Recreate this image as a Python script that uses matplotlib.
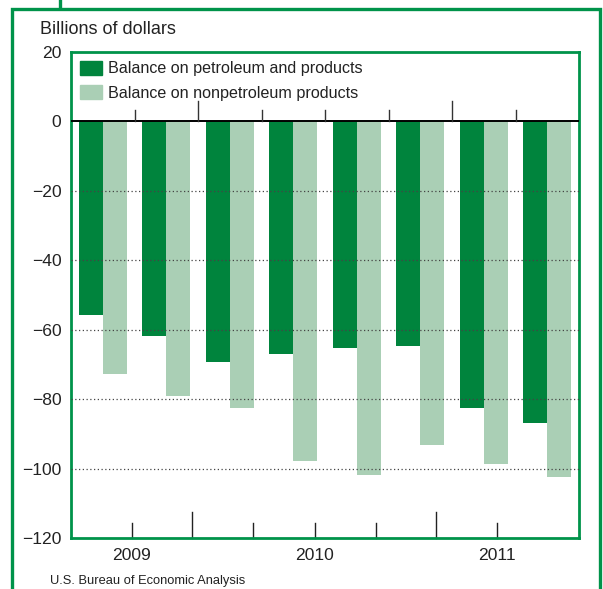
import numpy as np
import matplotlib
matplotlib.use('Agg')
import matplotlib.pyplot as plt
from matplotlib.patches import Rectangle, Patch

plt.rcParams['font.family'] = ['Liberation Sans', 'DejaVu Sans']

# quarterly balances, billions of dollars
petroleum = [-55.7, -61.8, -69.2, -67.0, -65.3, -64.7, -82.6, -86.9]
nonpetroleum = [-72.8, -79.1, -82.6, -97.8, -101.9, -93.2, -98.7, -102.5]
years = ['2009', '2010', '2011']
year_pos = [0.46, 3.34, 6.21]
bottom_ticks = [0.46, 1.40, 2.36, 3.34, 4.31, 5.25, 6.21]
bottom_tall = [1.40, 5.25]
yticks = [20, 0, -20, -40, -60, -80, -100, -120]

dark = '#00843d'
light = '#aacfb5'
frame = '#00934a'

W, H = 603, 589
fig = plt.figure(figsize=(W / 100, H / 100), dpi=100)
ax = fig.add_axes([71 / W, 1 - 538 / H, 508 / W, 486 / H])

x = np.arange(len(petroleum))
bw = 0.375
ax.bar(x - bw / 2, petroleum, bw, color=dark, zorder=2)
ax.bar(x + bw / 2, nonpetroleum, bw, color=light, zorder=2)

ax.set_xlim(-0.5, 7.5)
ax.set_ylim(-120, 20)

# dotted gridlines drawn over the bars
for v in [-20, -40, -60, -80, -100]:
    ax.axhline(v, color='#444444', lw=0.9, ls=(0, (1, 2)), zorder=3)
ax.axhline(0, color='black', lw=1.4, zorder=4)

# ticks on the zero line between quarters
for i in range(7):
    h = 5.8 if i in (1, 5) else 3.2
    ax.plot([i + 0.5, i + 0.5], [0, h], color='#333333', lw=1.0, zorder=4)

# ticks along the bottom
for p in bottom_ticks:
    h = 0.053 if p in bottom_tall else 0.031
    ax.plot([p, p], [0, h], color='#222222', lw=1.0,
            transform=ax.get_xaxis_transform(), clip_on=False)

for p, lab in zip(year_pos, years):
    ax.text(p, -0.036, lab, transform=ax.get_xaxis_transform(),
            ha='center', va='center', fontsize=12.6, color='#222222')

ax.set_xticks([])
ax.set_yticks(yticks)
ax.set_yticklabels([('\u2212' + str(-v)) if v < 0 else str(v) for v in yticks],
                   fontsize=12.6, color='#222222')
ax.tick_params(axis='y', length=0, pad=7)
for s in ax.spines.values():
    s.set_color(frame)
    s.set_linewidth(2.0)

handles = [Patch(color=dark, label='Balance on petroleum and products'),
           Patch(color=light, label='Balance on nonpetroleum products')]
ax.legend(handles=handles, loc='upper left', bbox_to_anchor=(0.0, 1.0),
          frameon=False, fontsize=11.6, handlelength=1.37, handleheight=0.95,
          handletextpad=0.37, labelspacing=0.55, borderaxespad=0.3,
          borderpad=0.25, labelcolor='#222222')

fig.text(40 / W, 1 - 29 / H, 'Billions of dollars', fontsize=13,
         ha='left', va='center', color='#222222')
fig.text(50 / W, 1 - 581 / H, 'U.S. Bureau of Economic Analysis', fontsize=9.3,
         ha='left', va='center', color='#222222')

# outer green frame
fig.patches.append(Rectangle((12 / W, -0.05), 588 / W, 1.05 - 9 / H,
                             transform=fig.transFigure, fill=False,
                             edgecolor=frame, lw=2.4))
fig.add_artist(plt.Line2D([60 / W, 60 / W], [1, 1 - 7 / H], color=frame,
                          lw=2.4, transform=fig.transFigure))

fig.savefig('out.png', dpi=100)
